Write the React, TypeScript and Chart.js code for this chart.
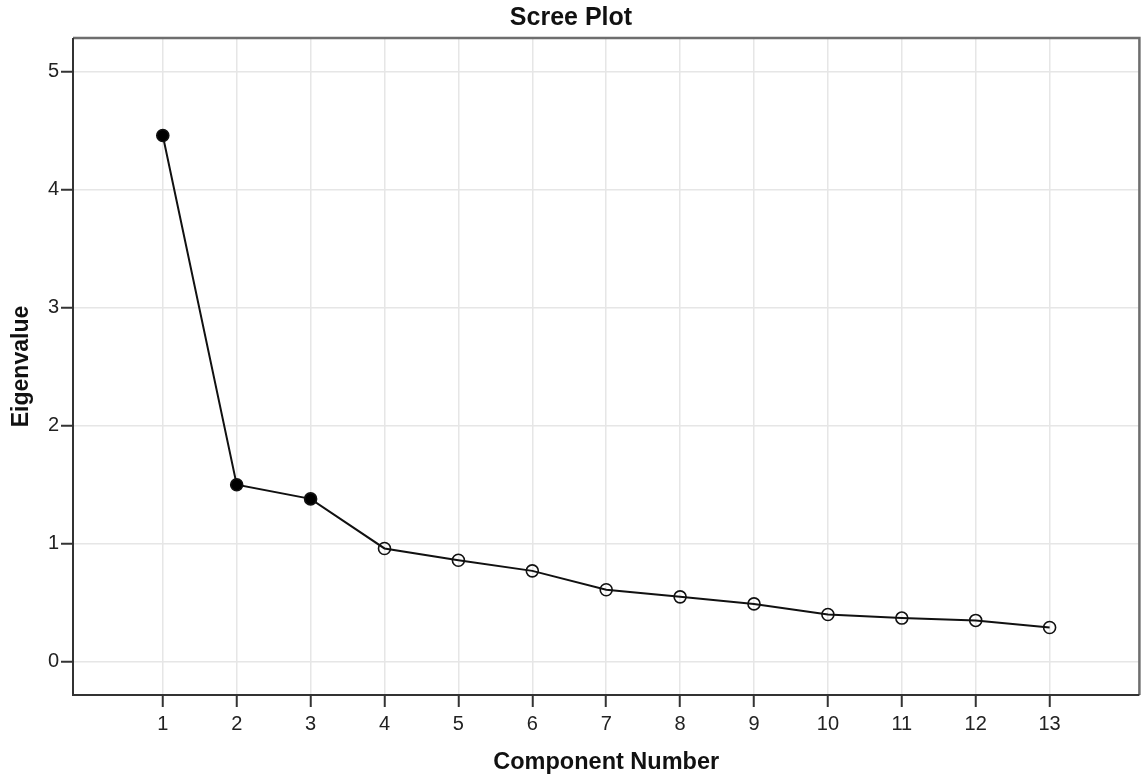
import React, { useEffect, useRef } from "react";
import { Chart, registerables } from "chart.js";

Chart.register(...registerables);

const components = [1, 2, 3, 4, 5, 6, 7, 8, 9, 10, 11, 12, 13];
const eigenvalues = [4.46, 1.5, 1.38, 0.96, 0.86, 0.77, 0.61, 0.55, 0.49, 0.4, 0.37, 0.35, 0.29];
const retainedCount = 3;
const xTicks = [1, 2, 3, 4, 5, 6, 7, 8, 9, 10, 11, 12, 13];
const yTicks = [0, 1, 2, 3, 4, 5];
const titleText = "Scree Plot";
const xTitle = "Component Number";
const yTitle = "Eigenvalue";

const FONT = "'Liberation Sans', Arial, sans-serif";

const frameBorder = {
  id: "frameBorder",
  afterDatasetsDraw(chart: any) {
    const { ctx, chartArea } = chart;
    ctx.save();
    ctx.strokeStyle = "#6e6e6e";
    ctx.lineWidth = 2.5;
    ctx.beginPath();
    ctx.moveTo(chartArea.left, chartArea.top);
    ctx.lineTo(chartArea.right, chartArea.top);
    ctx.lineTo(chartArea.right, chartArea.bottom);
    ctx.stroke();
    ctx.strokeStyle = "#333333";
    ctx.lineWidth = 2;
    ctx.beginPath();
    ctx.moveTo(chartArea.left, chartArea.top);
    ctx.lineTo(chartArea.left, chartArea.bottom);
    ctx.lineTo(chartArea.right, chartArea.bottom);
    ctx.stroke();
    ctx.restore();
  },
};

export default function App() {
  const ref = useRef<HTMLCanvasElement | null>(null);

  useEffect(() => {
    if (!ref.current) return;
    const points = components.map((c, i) => ({ x: c, y: eigenvalues[i] }));
    const chart = new Chart(ref.current, {
      type: "line",
      data: {
        datasets: [
          {
            data: points,
            borderColor: "#111111",
            borderWidth: 2,
            tension: 0,
            pointRadius: 6,
            pointBorderWidth: 1.6,
            pointBorderColor: "#111111",
            pointBackgroundColor: points.map((_, i) => (i < retainedCount ? "#000000" : "rgba(255,255,255,0)")),
          },
        ],
      },
      options: {
        animation: false,
        responsive: false,
        devicePixelRatio: 1,
        layout: { padding: { left: 0, right: 5, top: 0, bottom: 0 } },
        plugins: {
          legend: { display: false },
          tooltip: { enabled: false },
          title: {
            display: true,
            text: titleText,
            color: "#111111",
            font: { family: FONT, size: 25, weight: "bold" },
            padding: { top: 3.5, bottom: 4.5 },
          },
        },
        scales: {
          x: {
            type: "linear",
            min: -0.215,
            max: 14.215,
            afterBuildTicks: (scale: any) => {
              scale.ticks = xTicks.map((v) => ({ value: v }));
            },
            afterFit: (scale: any) => {
              scale.height = 85;
            },
            grid: {
              color: "#e6e6e6",
              lineWidth: 1.5,
              tickLength: 12,
              tickColor: "#333333",
              tickWidth: 2,
            },
            border: { display: false },
            ticks: {
              color: "#222222",
              font: { family: FONT, size: 20 },
              padding: 5,
              maxRotation: 0,
              autoSkip: false,
            },
            title: {
              display: true,
              text: xTitle,
              color: "#111111",
              font: { family: FONT, size: 23.5, weight: "bold" },
              padding: { top: 0, bottom: 3 },
            },
          },
          y: {
            type: "linear",
            min: -0.282,
            max: 5.286,
            afterBuildTicks: (scale: any) => {
              scale.ticks = yTicks.map((v) => ({ value: v }));
            },
            afterFit: (scale: any) => {
              scale.width = 73;
            },
            grid: {
              color: "#e6e6e6",
              lineWidth: 1.5,
              tickLength: 12,
              tickColor: "#333333",
              tickWidth: 2,
            },
            border: { display: false },
            ticks: {
              color: "#222222",
              font: { family: FONT, size: 20 },
              padding: 2,
            },
            title: {
              display: true,
              text: yTitle,
              color: "#111111",
              font: { family: FONT, size: 23, weight: "bold" },
              padding: { top: 8, bottom: 0 },
            },
          },
        },
      },
      plugins: [frameBorder],
    } as any);
    return () => chart.destroy();
  }, []);

  return (
    <div style={{ position: "fixed", left: 0, top: 0, width: 1147, height: 780, background: "#ffffff" }}>
      <canvas ref={ref} width={1147} height={780} style={{ width: 1147, height: 780, display: "block" }} />
    </div>
  );
}
